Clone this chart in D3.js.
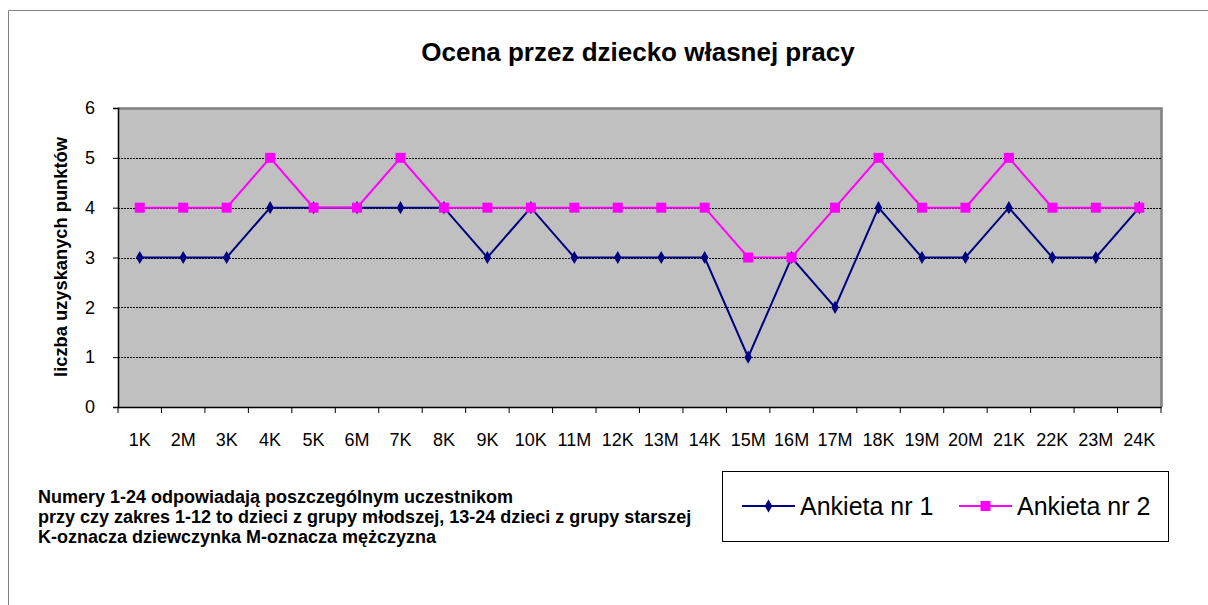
<!DOCTYPE html>
<html><head><meta charset="utf-8">
<script src="https://cdn.jsdelivr.net/npm/d3@7/dist/d3.min.js"></script>
<style>body{margin:0;background:#fff}text{font-family:Arial,"Liberation Sans",sans-serif}</style>
</head><body><svg id="c" width="1208" height="605"></svg>
<script>
const categories = ["1K","2M","3K","4K","5K","6M","7K","8K","9K","10K","11M","12K","13M","14K","15M","16M","17M","18K","19M","20M","21K","22K","23M","24K"];
const ankieta1 = [3,3,3,4,4,4,4,4,3,4,3,3,3,3,1,3,2,4,3,3,4,3,3,4];
const ankieta2 = [4,4,4,5,4,4,5,4,4,4,4,4,4,4,3,3,4,5,4,4,5,4,4,4];
const yTicks = [0,1,2,3,4,5,6];
const seriesNames = ["Ankieta nr 1","Ankieta nr 2"];
const noteLines = ["Numery 1-24 odpowiadają poszczególnym uczestnikom","przy czy zakres 1-12 to dzieci z grupy młodszej, 13-24 dzieci z grupy starszej","K-oznacza dziewczynka M-oznacza mężczyzna"];

const svg = d3.select("#c");
svg.append("path").attr("d","M8.5,605 V10.5 H1208").attr("fill","none").attr("stroke","#808080").attr("stroke-width",1);

const L=118,R=1161,T=108,B=407;
const x = d3.scaleBand().domain(categories).range([L,R]);
const y = d3.scaleLinear().domain([0,6]).range([B,T]);
const cx = d=>x(d)+x.bandwidth()/2;

svg.append("rect").attr("x",L).attr("y",T).attr("width",R-L).attr("height",B-T).attr("fill","#c0c0c0");
svg.append("path").attr("d",`M${L},${T+0.5} H${R+0.5} V${B}`).attr("fill","none").attr("stroke","#808080").attr("stroke-width",2.5);
svg.append("g").selectAll("line").data(yTicks.filter(t=>t>0&&t<6)).join("line")
  .attr("x1",L).attr("x2",R).attr("y1",d=>Math.round(y(d))+0.5).attr("y2",d=>Math.round(y(d))+0.5)
  .attr("stroke","#000").attr("stroke-dasharray","2,1").attr("stroke-width",1);

const ya = svg.append("g").attr("transform",`translate(${L},0)`)
  .call(d3.axisLeft(y).tickValues(yTicks).tickFormat(d3.format("d")).tickSize(5).tickPadding(18));
ya.select(".domain").attr("stroke","#000").attr("stroke-width",1.5);
ya.selectAll("text").attr("font-size",18).attr("fill","#000").attr("font-family","Arial, 'Liberation Sans', sans-serif");
const xa = svg.append("g").attr("transform",`translate(0,${B})`).call(d3.axisBottom(x).tickSize(0).tickPadding(26));
xa.select(".domain").attr("stroke","#000").attr("stroke-width",1.5);
xa.selectAll("text").attr("font-size",18).attr("fill","#000").attr("font-family","Arial, 'Liberation Sans', sans-serif");
svg.append("g").selectAll("line").data(d3.range(categories.length+1)).join("line")
  .attr("x1",i=>L+i*x.step()).attr("x2",i=>L+i*x.step()).attr("y1",B).attr("y2",B+6).attr("stroke","#000");

const line = d3.line().x((d,i)=>cx(categories[i])).y(d=>y(d));
svg.append("path").datum(ankieta1).attr("d",line).attr("fill","none").attr("stroke","#000080").attr("stroke-width",2);
svg.append("path").datum(ankieta2).attr("d",line).attr("fill","none").attr("stroke","#ff00ff").attr("stroke-width",2);
const diamond = d3.symbol().type(d3.symbolDiamond).size(50);
svg.append("g").selectAll("path").data(ankieta1).join("path")
  .attr("transform",(d,i)=>`translate(${cx(categories[i])},${y(d)})`).attr("d",diamond).attr("fill","#000080");
svg.append("g").selectAll("rect").data(ankieta2).join("rect")
  .attr("x",(d,i)=>cx(categories[i])-5).attr("y",d=>y(d)-5).attr("width",10).attr("height",10).attr("fill","#ff00ff");

svg.append("text").attr("x",638).attr("y",61).attr("text-anchor","middle").attr("font-size",26).attr("font-weight","bold").text("Ocena przez dziecko własnej pracy");
svg.append("text").attr("transform","translate(67,257) rotate(-90)").attr("text-anchor","middle").attr("font-size",18.3).attr("font-weight","bold").text("liczba uzyskanych punktów");

svg.append("g").selectAll("text").data(noteLines).join("text")
  .attr("x",38).attr("y",(d,i)=>503+i*20).attr("font-size",18).attr("font-weight","bold")
  .attr("font-family","'Liberation Sans Narrow', 'Arial Narrow', Arial, sans-serif").text(d=>d);

svg.append("rect").attr("x",722.5).attr("y",471.5).attr("width",446).attr("height",70).attr("fill","#fff").attr("stroke","#000");
const lg = [{x:742,c:"#000080",t:"d"},{x:959,c:"#ff00ff",t:"s"}];
lg.forEach((o,i)=>{
  svg.append("line").attr("x1",o.x).attr("x2",o.x+53).attr("y1",506).attr("y2",506).attr("stroke",o.c).attr("stroke-width",2);
  if(o.t==="d") svg.append("path").attr("transform",`translate(${o.x+26.5},506)`).attr("d",diamond).attr("fill",o.c);
  else svg.append("rect").attr("x",o.x+21.5).attr("y",501).attr("width",10).attr("height",10).attr("fill",o.c);
  svg.append("text").attr("x",o.x+58).attr("y",515).attr("font-size",25).text(seriesNames[i]);
});
</script></body></html>
